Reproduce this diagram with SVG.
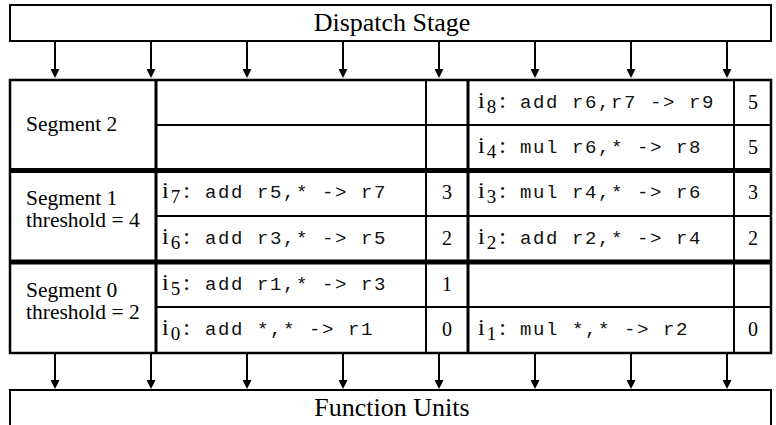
<svg xmlns="http://www.w3.org/2000/svg" width="776" height="425" viewBox="0 0 776 425">
  <style>
    .box { fill: #fff; stroke: #000; stroke-width: 2; }
    .thin { stroke: #000; stroke-width: 2; fill: none; }
    .mid { stroke: #000; stroke-width: 3; fill: none; }
    .thick { stroke: #000; stroke-width: 5; fill: none; }
    .conn { stroke: #000; stroke-width: 2; fill: none; marker-end: url(#head); }
    .title { font-family: "Liberation Serif", "Times New Roman", serif; font-size: 26px; fill: #000; }
    .seg { font-family: "Liberation Serif", "Times New Roman", serif; font-size: 21.5px; fill: #000; }
    .num { font-family: "Liberation Serif", "Times New Roman", serif; font-size: 20px; fill: #000; text-anchor: middle; }
    .i { font-family: "Liberation Serif", "Times New Roman", serif; font-size: 24px; }
    .sub { font-family: "Liberation Serif", "Times New Roman", serif; font-size: 19px; }
    .code { font-family: "Liberation Mono", "Courier New", monospace; font-size: 19px; letter-spacing: 1.6px; fill: #111; }
  </style>
  <defs>
    <marker id="head" viewBox="0 0 10 10" refX="2.2" refY="5" markerWidth="9" markerHeight="9" markerUnits="userSpaceOnUse" orient="auto">
      <path d="M0,0 L10,5 L0,10 z" fill="#000"/>
    </marker>
  </defs>

  <!-- dispatch stage -->
  <g id="dispatch-stage">
    <rect class="box" x="10" y="5" width="761" height="36"/>
    <text class="title" x="392" y="31" text-anchor="middle">Dispatch Stage</text>
  </g>

  <!-- function units (box runs past the lower edge) -->
  <g id="function-units">
    <rect class="box" x="10" y="390" width="761" height="60"/>
    <text class="title" x="392" y="416" text-anchor="middle">Function Units</text>
  </g>

  <!-- instruction window grid -->
  <g id="window-grid">
    <rect class="mid" x="10" y="80" width="761" height="273" style="stroke-width:2.5"/>
    <line class="mid" x1="156" y1="80" x2="156" y2="353"/>
    <line class="thin" x1="426" y1="80" x2="426" y2="353"/>
    <line class="mid" x1="468" y1="80" x2="468" y2="353"/>
    <line class="thin" x1="734" y1="80" x2="734" y2="353"/>
    <line class="thin" x1="156" y1="125" x2="771" y2="125"/>
    <line class="thick" x1="10" y1="170.5" x2="771" y2="170.5"/>
    <line class="thin" x1="156" y1="216" x2="771" y2="216"/>
    <line class="thick" x1="10" y1="262" x2="771" y2="262"/>
    <line class="thin" x1="156" y1="307" x2="771" y2="307"/>
  </g>

  <!-- segment 2 -->
  <g id="segment-2">
    <text class="seg" x="26" y="131">Segment 2</text>
    <text y="108"><tspan class="i" x="478">i</tspan><tspan class="sub" dx="2" dy="5">8</tspan><tspan class="i" dx="3" dy="-5">:</tspan><tspan class="code" x="520">add r6,r7 -&gt; r9</tspan></text>
    <text class="num" x="753" y="109">5</text>
    <text y="153"><tspan class="i" x="478">i</tspan><tspan class="sub" dx="2" dy="5">4</tspan><tspan class="i" dx="3" dy="-5">:</tspan><tspan class="code" x="520">mul r6,* -&gt; r8</tspan></text>
    <text class="num" x="753" y="154">5</text>
  </g>

  <!-- segment 1 -->
  <g id="segment-1">
    <text class="seg" x="26" y="205">Segment 1</text>
    <text class="seg" x="26" y="227">threshold = 4</text>
    <text y="198"><tspan class="i" x="162">i</tspan><tspan class="sub" dx="2" dy="5">7</tspan><tspan class="i" dx="3" dy="-5">:</tspan><tspan class="code" x="205">add r5,* -&gt; r7</tspan></text>
    <text class="num" x="447" y="199">3</text>
    <text y="198"><tspan class="i" x="478">i</tspan><tspan class="sub" dx="2" dy="5">3</tspan><tspan class="i" dx="3" dy="-5">:</tspan><tspan class="code" x="520">mul r4,* -&gt; r6</tspan></text>
    <text class="num" x="753" y="199">3</text>
    <text y="244"><tspan class="i" x="162">i</tspan><tspan class="sub" dx="2" dy="5">6</tspan><tspan class="i" dx="3" dy="-5">:</tspan><tspan class="code" x="205">add r3,* -&gt; r5</tspan></text>
    <text class="num" x="447" y="245">2</text>
    <text y="244"><tspan class="i" x="478">i</tspan><tspan class="sub" dx="2" dy="5">2</tspan><tspan class="i" dx="3" dy="-5">:</tspan><tspan class="code" x="520">add r2,* -&gt; r4</tspan></text>
    <text class="num" x="753" y="245">2</text>
  </g>

  <!-- segment 0 -->
  <g id="segment-0">
    <text class="seg" x="26" y="297">Segment 0</text>
    <text class="seg" x="26" y="319">threshold = 2</text>
    <text y="290"><tspan class="i" x="162">i</tspan><tspan class="sub" dx="2" dy="5">5</tspan><tspan class="i" dx="3" dy="-5">:</tspan><tspan class="code" x="205">add r1,* -&gt; r3</tspan></text>
    <text class="num" x="447" y="291">1</text>
    <text y="335"><tspan class="i" x="162">i</tspan><tspan class="sub" dx="2" dy="5">0</tspan><tspan class="i" dx="3" dy="-5">:</tspan><tspan class="code" x="205">add *,* -&gt; r1</tspan></text>
    <text class="num" x="447" y="336">0</text>
    <text y="335"><tspan class="i" x="478">i</tspan><tspan class="sub" dx="2" dy="5">1</tspan><tspan class="i" dx="3" dy="-5">:</tspan><tspan class="code" x="520">mul *,* -&gt; r2</tspan></text>
    <text class="num" x="753" y="336">0</text>
  </g>

  <!-- connectors: dispatch to window, window to function units -->
  <g id="connectors">
    <line class="conn" x1="55" y1="41" x2="55" y2="71"/>
    <line class="conn" x1="151" y1="41" x2="151" y2="71"/>
    <line class="conn" x1="247" y1="41" x2="247" y2="71"/>
    <line class="conn" x1="343" y1="41" x2="343" y2="71"/>
    <line class="conn" x1="439" y1="41" x2="439" y2="71"/>
    <line class="conn" x1="535" y1="41" x2="535" y2="71"/>
    <line class="conn" x1="631" y1="41" x2="631" y2="71"/>
    <line class="conn" x1="727" y1="41" x2="727" y2="71"/>
    <line class="conn" x1="55" y1="354" x2="55" y2="382"/>
    <line class="conn" x1="151" y1="354" x2="151" y2="382"/>
    <line class="conn" x1="247" y1="354" x2="247" y2="382"/>
    <line class="conn" x1="343" y1="354" x2="343" y2="382"/>
    <line class="conn" x1="439" y1="354" x2="439" y2="382"/>
    <line class="conn" x1="535" y1="354" x2="535" y2="382"/>
    <line class="conn" x1="631" y1="354" x2="631" y2="382"/>
    <line class="conn" x1="727" y1="354" x2="727" y2="382"/>
  </g>
</svg>
